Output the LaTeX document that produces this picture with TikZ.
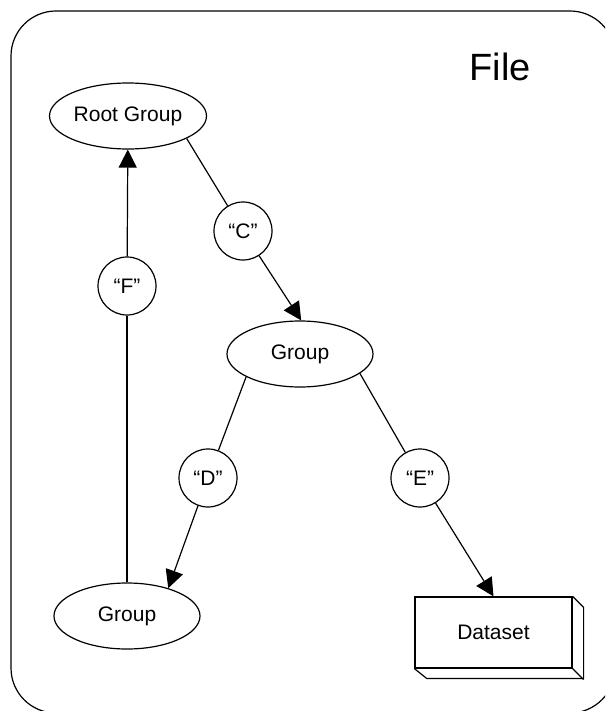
\documentclass[tikz,border=0pt]{standalone}
\usepackage{fontspec}
\setmainfont{Liberation Sans}
\usetikzlibrary{shapes.geometric,arrows.meta}

\begin{document}
\begin{tikzpicture}[x=0.5pt,y=-0.5pt,
    groupnode/.style={ellipse,draw,line width=0.6pt,inner sep=0,minimum width=73pt,minimum height=33pt,font=\fontsize{10.5}{12}\selectfont},
    namenode/.style={circle,draw,line width=0.6pt,inner sep=0,minimum size=29pt,font=\fontsize{10.5}{12}\selectfont},
    link/.style={line width=0.6pt},
    hardlink/.style={link,-{Triangle[length=9pt,width=9pt]}}]
    \pgfmathsetmacro{\boxwidth}{157}
    \pgfmathsetmacro{\boxheight}{71}
    \pgfmathsetmacro{\boxdepth}{11}
    \useasboundingbox (0,0) rectangle (605,711);
    \clip (0,0) rectangle (605,711);
    % the file itself
    \draw[line width=0.6pt,rounded corners=22.5pt] (11,11) rectangle (615,713);
    \node[font=\fontsize{19}{22}\selectfont] (filelabel) at (500,67) {File};
    % groups and dataset
    \node[groupnode,minimum width=78.5pt] (root) at (128,116) {Root Group};
    \node[groupnode] (grp) at (300,354) {Group};
    \node[groupnode] (grpb) at (127,616) {Group};
    \node[draw,line width=0.6pt,inner sep=0,minimum width=\boxwidth*0.5pt,minimum height=\boxheight*0.5pt,font=\fontsize{10.5}{12}\selectfont] (ds) at (493.5,632.5) {Dataset};
    \draw[line width=0.6pt] (ds.north east) -- ++(\boxdepth,\boxdepth) -- ++(0,\boxheight) -- ++(-\boxwidth,0) -- (ds.south west);
    \draw[line width=0.6pt] (ds.south east) -- ++(\boxdepth,\boxdepth);
    % link names
    \node[namenode] (c) at (243,231) {“C”};
    \node[namenode] (f) at (127,286) {“F”};
    \node[namenode] (d) at (208,478) {“D”};
    \node[namenode] (e) at (420,478) {“E”};
    % links
    \draw[link] (root.-21) -- (c);
    \draw[hardlink] (c) -- (grp.88);
    \draw[link] (grp.203) -- (d);
    \draw[hardlink] (d) -- (grpb.34);
    \draw[link] (grp.-18) -- (e);
    \draw[hardlink] (e) -- (ds.north);
    \draw[link] (grpb) -- (f);
    \draw[hardlink] (f) -- (root);
\end{tikzpicture}
\end{document}
